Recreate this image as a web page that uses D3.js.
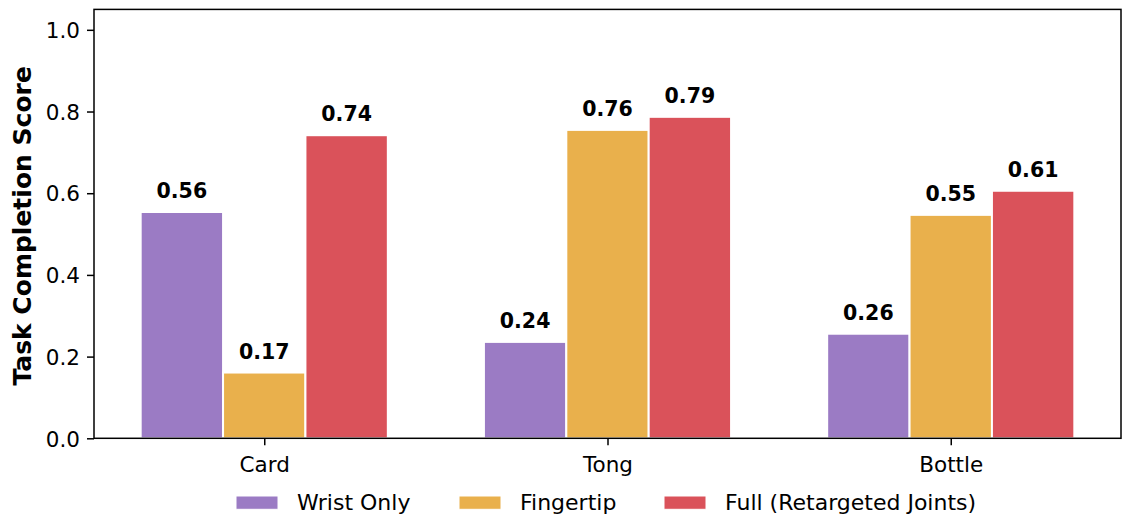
<!DOCTYPE html>
<html>
<head>
<meta charset="utf-8">
<script src="https://cdn.jsdelivr.net/npm/d3@7"></script>
<style>
  html, body { margin: 0; padding: 0; background: #fff; overflow: hidden; }
  svg { display: block; font-family: "DejaVu Sans", sans-serif; }
</style>
</head>
<body>
<svg id="chart"></svg>
<script>
const tasks = ["Card", "Tong", "Bottle"];
const methods = ["Wrist Only", "Fingertip", "Full (Retargeted Joints)"];
const colors = ["#9b7bc4", "#e9b04c", "#da525a"];

// bar heights per method, one entry per task
const wristOnly = [0.554, 0.236, 0.256];
const fingertip = [0.161, 0.755, 0.547];
const fullJoints = [0.742, 0.787, 0.606];

// value labels as printed above the bars
const wristLabels = ["0.56", "0.24", "0.26"];
const fingerLabels = ["0.17", "0.76", "0.55"];
const fullLabels = ["0.74", "0.79", "0.61"];

const yTicks = [0.0, 0.2, 0.4, 0.6, 0.8, 1.0];

const series = [wristOnly, fingertip, fullJoints];
const seriesLabels = [wristLabels, fingerLabels, fullLabels];

const width = 1137, height = 526;
const margin = { top: 9.4, right: 16, bottom: 87.7, left: 94 };
const innerWidth = width - margin.left - margin.right;
const innerHeight = height - margin.top - margin.bottom;

const barW = 0.24;
const offsets = [-barW, 0, barW];

const svg = d3.select("#chart")
  .attr("width", width)
  .attr("height", height);

const g = svg.append("g")
  .attr("transform", `translate(${margin.left},${margin.top})`);

// linear x with 5% margins around the bar extents
const xMin = -barW * 1.5, xMax = tasks.length - 1 + barW * 1.5;
const pad = (xMax - xMin) * 0.05;
const x = d3.scaleLinear()
  .domain([xMin - pad, xMax + pad])
  .range([0, innerWidth]);

const y = d3.scaleLinear()
  .domain([0, 1.05])
  .range([innerHeight, 0]);

// bars + value labels
series.forEach((vals, s) => {
  g.selectAll(`rect.s${s}`)
    .data(vals)
    .enter()
    .append("rect")
    .attr("class", `s${s}`)
    .attr("x", (d, i) => x(i + offsets[s] - barW / 2))
    .attr("width", x(barW) - x(0))
    .attr("y", d => y(d))
    .attr("height", d => y(0) - y(d))
    .attr("fill", colors[s])
    .attr("stroke", "#fff")
    .attr("stroke-width", 2);

  g.selectAll(`text.l${s}`)
    .data(vals)
    .enter()
    .append("text")
    .attr("class", `l${s}`)
    .attr("x", (d, i) => x(i + offsets[s]))
    .attr("y", d => y(d) - 14)
    .attr("text-anchor", "middle")
    .style("font-size", "20.5px")
    .style("font-weight", "bold")
    .text((d, i) => seriesLabels[s][i]);
});

// axes
const xAxis = g.append("g")
  .attr("transform", `translate(0,${innerHeight})`)
  .call(d3.axisBottom(x)
    .tickValues(d3.range(tasks.length))
    .tickFormat(i => tasks[i])
    .tickSize(7)
    .tickPadding(6));

const yAxis = g.append("g")
  .call(d3.axisLeft(y)
    .tickValues(yTicks)
    .tickFormat(d3.format(".1f"))
    .tickSize(7)
    .tickPadding(7));

[xAxis, yAxis].forEach(ax => {
  ax.select(".domain").remove();
  ax.selectAll(".tick line").attr("stroke", "#000").attr("stroke-width", 1.5);
  ax.selectAll(".tick text")
    .attr("fill", "#000")
    .style("font-size", "21.5px")
    .style("font-family", "DejaVu Sans, sans-serif");
});
xAxis.selectAll(".tick text").attr("dy", "0.95em");
yAxis.selectAll(".tick text").attr("dy", "0.36em");

// frame
g.append("rect")
  .attr("width", innerWidth)
  .attr("height", innerHeight)
  .attr("fill", "none")
  .attr("stroke", "#000")
  .attr("stroke-width", 1.5);

// y label
svg.append("text")
  .attr("transform", `translate(31,${margin.top + innerHeight / 2 + 2}) rotate(-90)`)
  .attr("text-anchor", "middle")
  .style("font-size", "25px")
  .style("font-weight", "bold")
  .text("Task Completion Score");

// legend
const legendX = [236, 459, 664];
const legend = svg.append("g")
  .attr("transform", "translate(0,496)");

methods.forEach((m, i) => {
  const item = legend.append("g")
    .attr("transform", `translate(${legendX[i]},0)`);
  item.append("rect")
    .attr("width", 42)
    .attr("height", 13.3)
    .attr("fill", colors[i])
    .attr("stroke", "#fff")
    .attr("stroke-width", 1);
  item.append("text")
    .attr("x", 61)
    .attr("y", 13.6)
    .style("font-size", "22px")
    .text(m);
});
</script>
</body>
</html>
